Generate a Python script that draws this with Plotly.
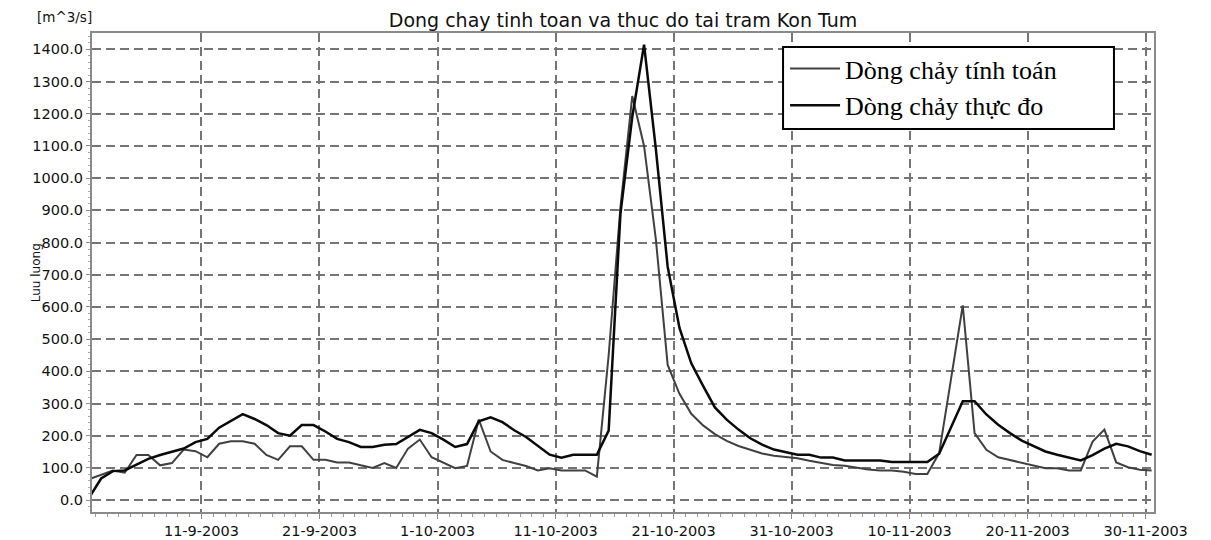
import pandas as pd
import plotly.graph_objects as go

# ---- data (daily values, 1-9-2003 .. 30-11-2003) ----
start_date = "2003-09-01 12:00"
n_days = 91

computed_sep = [65, 78, 92, 85, 140, 140, 108, 115, 157, 152, 133, 175, 183, 183, 175,
                140, 125, 167, 167, 125, 125, 117, 117, 108, 100, 115, 100, 160, 188, 133]
computed_oct = [117, 99, 106, 250, 151, 125, 115, 106, 92, 99, 92, 92, 92, 73, 450,
                910, 1255, 1100, 810, 420, 330, 268, 232, 205, 184, 168, 156, 145, 138, 133, 130]
computed_nov = [122, 115, 109, 107, 100, 95, 92, 92, 88, 81, 81, 146, 375, 605, 208,
                156, 133, 125, 117, 107, 99, 99, 92, 92, 182, 219, 117, 102, 94, 92]

observed_sep = [8, 67, 90, 92, 110, 128, 140, 150, 160, 180, 190, 225, 247, 267, 252,
                233, 208, 200, 233, 233, 213, 190, 180, 165, 165, 172, 174, 195, 218, 208]
observed_oct = [188, 165, 174, 245, 257, 242, 217, 196, 169, 141, 132, 141, 141, 141, 216,
                890, 1190, 1415, 1090, 725, 535, 425, 355, 288, 250, 219, 192, 172, 157, 148, 141]
observed_nov = [141, 132, 132, 123, 123, 123, 123, 118, 118, 118, 118, 144, 224, 307, 307,
                266, 234, 208, 185, 167, 151, 141, 132, 123, 140, 160, 175, 167, 152, 141]

tick_dates = ["2003-09-11", "2003-09-21", "2003-10-01", "2003-10-11", "2003-10-21",
              "2003-10-31", "2003-11-10", "2003-11-20", "2003-11-30"]
tick_labels = ["11-9-2003", "21-9-2003", "1-10-2003", "11-10-2003", "21-10-2003",
               "31-10-2003", "10-11-2003", "20-11-2003", "30-11-2003"]
y_ticks = list(range(0, 1401, 100))

name_computed = "Dòng chảy tính toán"
name_observed = "Dòng chảy thực đo"
title_text = "Dong chay tinh toan va thuc do tai tram Kon Tum"
y_title = "Luu luong"
unit_text = "[m^3/s]"

dates = pd.date_range(start_date, periods=n_days, freq="D")
computed = computed_sep + computed_oct + computed_nov
observed = observed_sep + observed_oct + observed_nov

fig = go.Figure()
fig.add_trace(go.Scatter(x=dates, y=computed, mode="lines", name=name_computed,
                         line=dict(color="#404040", width=2)))
fig.add_trace(go.Scatter(x=dates, y=observed, mode="lines", name=name_observed,
                         line=dict(color="#0a0a0a", width=2.5)))

tick_font = dict(family="DejaVu Sans", size=14.5, color="#111")
fig.update_layout(
    width=1211, height=540,
    margin=dict(l=84, r=65, t=25, b=36, autoexpand=False),
    paper_bgcolor="white", plot_bgcolor="white",
    title=dict(text=title_text, x=0.5, xref="paper", xanchor="center",
               y=0.978, yref="container", yanchor="middle",
               font=dict(family="DejaVu Sans", size=19, color="#111")),
    legend=dict(x=0.6526, y=0.975, xanchor="left", yanchor="top",
                borderwidth=0, bgcolor="rgba(0,0,0,0)",
                font=dict(family="Liberation Serif", size=26, color="black"),
                itemwidth=50),
    # legend frame (white box drawn over the grid, legend entries drawn on top)
    shapes=[dict(type="rect", xref="paper", yref="paper",
                 x0=0.6507, x1=0.9623, y0=0.7996, y1=0.9708, layer="above",
                 line=dict(color="black", width=2), fillcolor="white")],
    annotations=[
        dict(text=unit_text, xref="paper", yref="paper", x=-0.0257, y=1.034,
             xanchor="center", yanchor="middle", showarrow=False,
             font=dict(family="DejaVu Sans", size=13.5, color="#111")),
        dict(text=y_title, xref="paper", yref="paper", x=-0.053, y=0.5,
             xanchor="center", yanchor="middle", showarrow=False, textangle=-90,
             font=dict(family="DejaVu Sans", size=12, color="#111")),
    ],
)
fig.update_xaxes(
    type="date", range=["2003-09-01 17:30", "2003-11-30 16:50"], automargin=False,
    tickmode="array", tickvals=tick_dates, ticktext=tick_labels,
    showgrid=True, gridcolor="#757575", gridwidth=2, griddash="9px,5px",
    showline=True, linecolor="#8a8a8a", linewidth=2, mirror=True,
    ticks="outside", ticklen=5, tickcolor="#8a8a8a", tickwidth=1,
    minor=dict(dtick=86400000, ticks="outside", ticklen=3, tickcolor="#9a9a9a", showgrid=False),
    tickfont=tick_font, zeroline=False,
)
fig.update_yaxes(
    range=[-37, 1451], automargin=False, tickmode="array", tickvals=y_ticks, tickformat=".1f",
    showgrid=True, gridcolor="#757575", gridwidth=2, griddash="9px,5px",
    showline=True, linecolor="#8a8a8a", linewidth=2, mirror=True,
    ticks="outside", ticklen=4, tickcolor="#8a8a8a", tickwidth=1,
    minor=dict(dtick=20, ticks="outside", ticklen=2, tickcolor="#aaaaaa", showgrid=False),
    tickfont=tick_font, zeroline=False,
)

fig.write_html("out.html")
